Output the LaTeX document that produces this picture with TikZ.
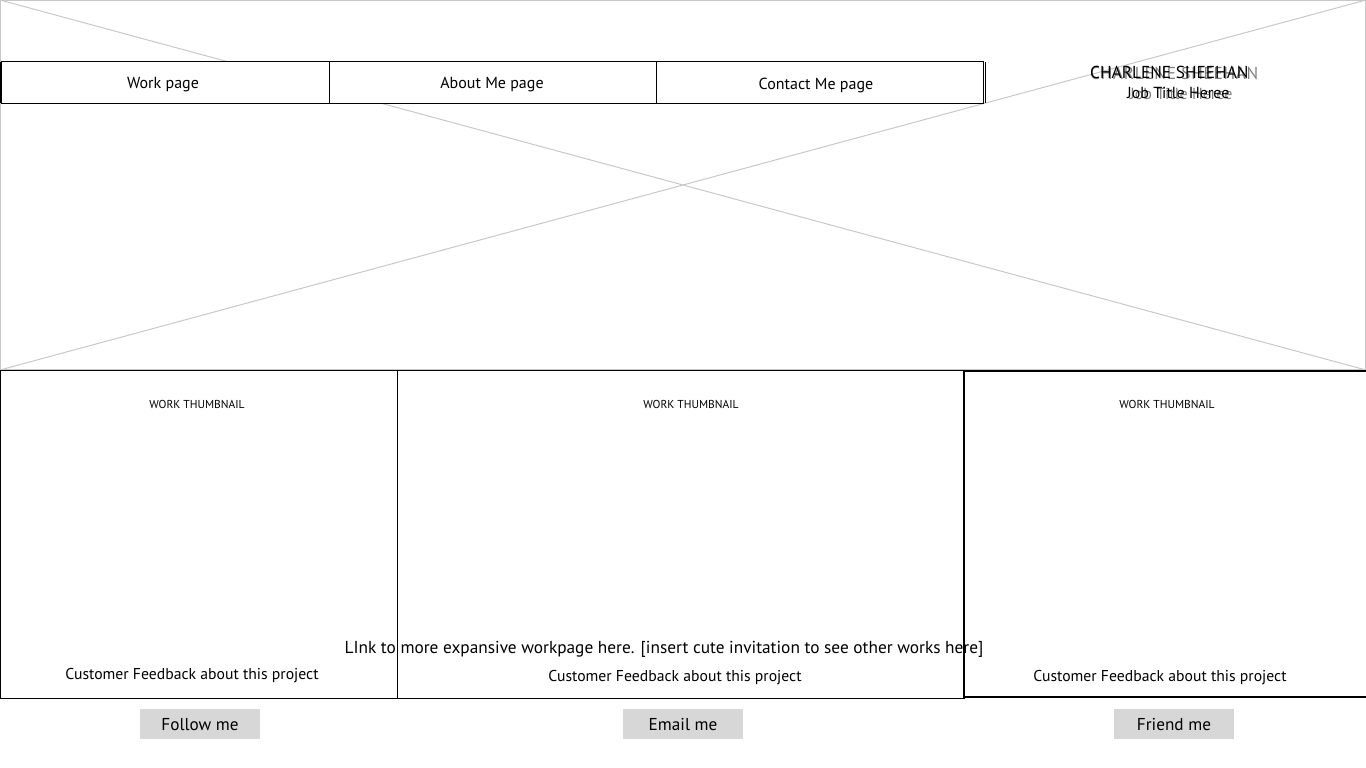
\documentclass[tikz,border=0pt]{standalone}
\usepackage{fontspec}
\setmainfont{PT Sans}
\usepackage{tikz}
\usetikzlibrary{positioning}

\definecolor{btngray}{RGB}{215,215,215}
\definecolor{linegray}{RGB}{200,200,200}

\tikzset{
    navbox/.style={draw=black, fill=white, line width=1pt, minimum height=41pt, inner sep=0pt, text depth=0pt},
    navtext/.style={font=\fontsize{16}{19}\selectfont, inner sep=0pt},
    thumbbox/.style={draw=black, line width=1pt, inner sep=0pt},
    thumblabel/.style={font=\fontsize{11.5}{14}\selectfont, inner sep=0pt},
    feedback/.style={font=\fontsize{15.7}{18}\selectfont, inner sep=0pt},
    button/.style={fill=btngray, minimum width=120pt, minimum height=30pt, inner sep=0pt},
    btntext/.style={font=\fontsize{17.2}{20}\selectfont, inner sep=0pt}
}

\begin{document}
\begin{tikzpicture}[x=1pt, y=-1pt]
        \useasboundingbox (0,0) rectangle (1366,768);

        % header image placeholder
        \draw[linegray, line width=1pt] (0.5,0.5) rectangle (1365.5,369.5);
        \draw[linegray, line width=1pt] (0,0) -- (1366,370);
        \draw[linegray, line width=1pt] (0,370) -- (1366,0);

        % navigation bar
        \filldraw[navbox, fill=white] (1,62) rectangle (983,103);
        \draw[line width=1pt] (329,62) -- (329,103);
        \draw[line width=1pt] (656,62) -- (656,103);
        \draw[line width=1pt] (985,62) -- (985,103);
        \draw[line width=2pt] (1,62) -- (1,103);
        \node[navtext] (work) at (163,85) {Work page};
        \node[navtext] (about) at (492,85) {About Me page};
        \node[navtext] (contact) at (816,85) {Contact Me page};

        % name and title
        \node[gray, font=\fontsize{17.3}{20}\selectfont\addfontfeature{LetterSpace=4}, anchor=west, inner sep=0pt] (namegray) at (1090,73) {CHARLENE SHEEHAN};
        \node[font=\fontsize{17.3}{20}\selectfont, anchor=west, inner sep=0pt] (name) at (1090,72) {CHARLENE SHEEHAN};
        \node[gray, font=\fontsize{16}{19}\selectfont, anchor=west, inner sep=0pt] (titlegray) at (1130,94) {Job Title Heree};
        \node[font=\fontsize{16}{19}\selectfont, anchor=west, inner sep=0pt] (title) at (1127,93) {Job Title Heree};

        % work thumbnails
        \draw[thumbbox] (0.5,370.5) rectangle (397,698);
        \draw[thumbbox] (397,370.5) rectangle (964,698);
        \draw[thumbbox, line width=2pt] (964,370.5) rectangle (1367,697);
        \node[thumblabel] (thumba) at (197,404) {WORK THUMBNAIL};
        \node[thumblabel] (thumbb) at (691,404) {WORK THUMBNAIL};
        \node[thumblabel] (thumbc) at (1167,404) {WORK THUMBNAIL};

        % feedback lines
        \node[feedback] (feeda) at (192,676) {Customer Feedback about this project};
        \node[feedback] (feedb) at (675,678) {Customer Feedback about this project};
        \node[feedback] (feedc) at (1160,678) {Customer Feedback about this project};

        % link to the work page
        \node[font=\fontsize{17.3}{20}\selectfont, inner sep=0pt] (link) at (664,649) {LInk to more expansive workpage here. [insert cute invitation to see other works here]};

        % buttons
        \node[button] (follow) at (200,724) {};
        \node[button] (email) at (683,724) {};
        \node[button] (friend) at (1174,724) {};
        \node[btntext] at ([yshift=-1pt]follow.center) {Follow me};
        \node[btntext] at ([yshift=-1pt]email.center) {Email me};
        \node[btntext] at ([yshift=-1pt]friend.center) {Friend me};
    \end{tikzpicture}
\end{document}
